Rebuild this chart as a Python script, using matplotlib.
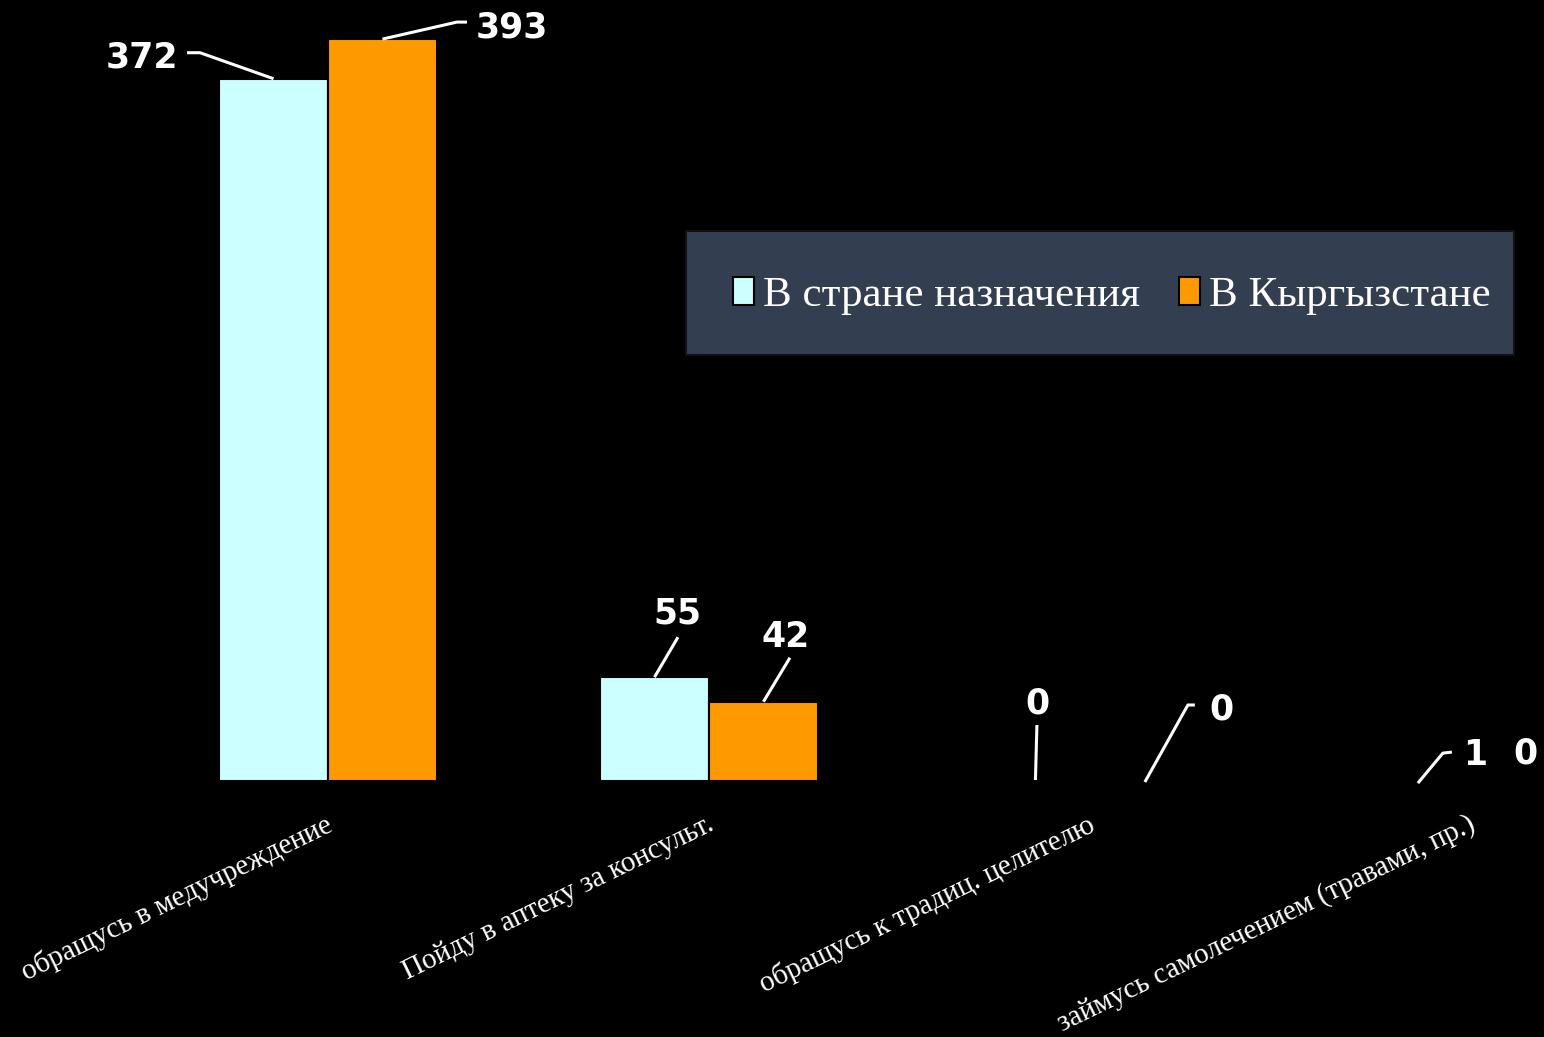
import matplotlib.pyplot as plt
from matplotlib.patches import Rectangle
from matplotlib.transforms import IdentityTransform
import numpy as np

categories = ['обращусь в медучреждение',
              'Пойду в аптеку за консульт.',
              'обращусь к традиц. целителю',
              'займусь самолечением (травами, пр.)']
series_names = ['В стране назначения', 'В Кыргызстане']
abroad = [372, 55, 0, 1]
home = [393, 42, 0, 0]

# label placement per bar, in pixels from the top-centre of the bar:
# (text dx, text baseline dy, leader polyline)
abroad_lbl = [(-131.5, 11, [(-86.5, 26), (-73.5, 26), (0, 0)]),
              (22.5, 54, [(23.5, 40), (0, 0)]),
              (2.5, 68, [(1.5, 56), (0, 1)]),
              (58.5, 14, [(35.5, 27), (26.5, 26), (1.5, -4)])]
home_lbl = [(129.5, 2, [(84.5, 17), (74.5, 17), (0, 0)]),
            (22.5, 55, [(26.5, 44), (0, 0)]),
            (77.5, 62, [(50.5, 76), (43.5, 76), (0.5, -1)]),
            (0, 18, None)]

W, H = 1544, 1037
fig = plt.figure(figsize=(W / 100, H / 100), dpi=100, facecolor='black')
ax = fig.add_axes([0, 256 / H, 1, 781 / H])
ax.set_facecolor('black')

x = np.arange(len(categories))
w = 0.286
b1 = ax.bar(x - w / 2, abroad, w, color='#CCFFFF', edgecolor='black',
            linewidth=1.5, label=series_names[0])
b2 = ax.bar(x + w / 2, home, w, color='#FF9900', edgecolor='black',
            linewidth=1.5, label=series_names[1])
ax.set_xlim(-0.861, 3.192)
ax.set_ylim(0, 413.7)
ax.axis('off')

for i, c in enumerate(categories):
    ax.annotate(c, xy=(i, 0), xytext=(-3, -30), textcoords='offset pixels',
                rotation=26, rotation_mode='anchor', ha='right', va='top',
                color='white', fontsize=21, family='Liberation Serif',
                annotation_clip=False)


def put_labels(xs, vals, specs):
    for xi, v, (dx, dy, path) in zip(xs, vals, specs):
        ax.annotate(str(v), xy=(xi, v), xytext=(dx, dy),
                    textcoords='offset pixels', ha='center', va='baseline',
                    color='white', fontsize=25, fontweight='heavy',
                    family='DejaVu Sans', annotation_clip=False)
        if path:
            x0, y0 = ax.transData.transform((xi, v))
            ax.plot([x0 + p[0] for p in path], [y0 + p[1] for p in path],
                    color='white', lw=2.2, transform=IdentityTransform(),
                    clip_on=False, solid_capstyle='butt')


put_labels(x - w / 2, abroad, abroad_lbl)
put_labels(x + w / 2, home, home_lbl)

# legend panel
ax.add_patch(Rectangle((686 / W, 1 - 355 / H), 828 / W, 124 / H,
                       transform=fig.transFigure, facecolor='#333F50',
                       edgecolor='#111111', lw=1.5, zorder=4, clip_on=False))
ax.legend(handles=[b1, b2], loc='center left',
          bbox_to_anchor=(694 / W, 1 - 296 / H), bbox_transform=fig.transFigure,
          ncol=2, frameon=False, labelcolor='white',
          prop={'family': 'Liberation Serif', 'size': 31},
          handlelength=0.5, handleheight=0.6, handletextpad=0.2,
          columnspacing=0.9)

fig.savefig('out.png', dpi=100, facecolor='black')
